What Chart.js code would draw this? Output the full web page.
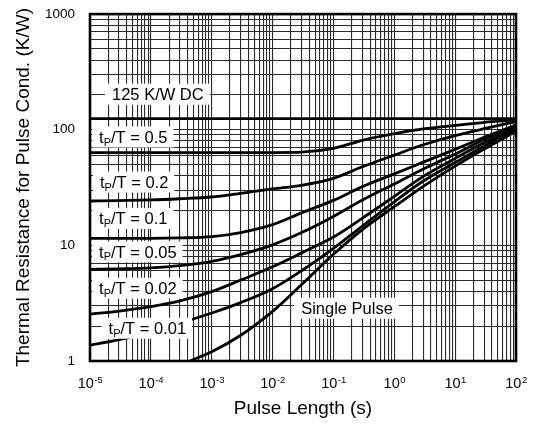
<!DOCTYPE html>
<html>
<head>
<meta charset="utf-8">
<style>
  html, body { margin: 0; padding: 0; background: #fff; }
  #wrap { width: 535px; height: 424px; }
</style>
<script src="https://cdn.jsdelivr.net/npm/chart.js@4.4.1/dist/chart.umd.min.js"></script>
</head>
<body>
<div id="wrap"><canvas id="c" width="535" height="424"></canvas></div>
<script>
// ---------------- data ----------------
const pulseLength = [1e-5, 3e-5, 1e-4, 3e-4, 1e-3, 3e-3, 1e-2, 3e-2, 1e-1, 3e-1, 1, 3, 10, 30, 100];
const dcLength = [1e-5, 100];
const dcRth = [125, 125];
const rthD05  = [63.5, 63.5, 63.5, 63.5, 63.5, 63.5, 63.5, 64.0, 69, 81, 92.5, 101.5, 109, 116, 122];
const rthD02  = [24.2, 24.4, 24.7, 25.3, 26.2, 28.2, 30.8, 33.1, 38.0, 47.8, 60.3, 74.1, 89, 102, 117.5];
const rthD01  = [11.5, 11.5, 11.5, 11.6, 11.9, 12.9, 15.1, 19.1, 24.5, 32.2, 41.5, 52.5, 67.6, 86, 110];
const rthD005 = [6.2, 6.27, 6.4, 6.68, 7.28, 8.32, 10.1, 12.9, 17.8, 24.7, 34.0, 45.7, 61.7, 82.2, 108];
const rthD002 = [2.54, 2.70, 2.95, 3.31, 3.98, 5.01, 6.53, 8.61, 11.8, 17.2, 26.5, 39.5, 56.5, 77, 104];
const rthD001 = [1.37, 1.53, 1.78, 2.12, 2.6, 3.2, 4.22, 6.03, 9.4, 14.7, 23.8, 36.0, 52, 72.4, 101];
const singleLength = [4.4e-4, 1e-3, 3e-3, 1e-2, 3e-2, 1e-1, 3e-1, 1, 3, 10, 30, 100];
const rthSingle = [1.0, 1.20, 1.67, 2.69, 4.58, 8.37, 13.7, 21.6, 32.4, 48.5, 68.1, 97];

// tick labels
const xDecades = [-5, -4, -3, -2, -1, 0, 1, 2];
const xTickBase = '10';
const xTickExponents = ['-5', '-4', '-3', '-2', '-1', '0', '1', '2'];
const yDecades = [0, 1, 2, 3];
const yTickLabels = ['1', '10', '100', '1000'];
const minorSteps = [1, 2, 3, 4, 5, 6, 7, 8, 9];

// curve annotations (text, anchor in data units: left edge of text, vertical middle)
const curveLabels = [
  { text: '125 K/W DC',   x: 2.3e-5,  y: 203 },
  { text: 't_P/T = 0.5',  x: 1.41e-5, y: 86.5 },
  { text: 't_P/T = 0.2',  x: 1.46e-5, y: 35.3 },
  { text: 't_P/T = 0.1',  x: 1.41e-5, y: 17.1 },
  { text: 't_P/T = 0.05', x: 1.41e-5, y: 8.8 },
  { text: 't_P/T = 0.02', x: 1.41e-5, y: 4.26 },
  { text: 't_P/T = 0.01', x: 2.02e-5, y: 1.92 },
  { text: 'Single Pulse', x: 2.95e-2, y: 2.86 }
];

// ---------------- helpers ----------------
const FONT = "'Liberation Sans', Arial, Helvetica, sans-serif";
const pts = (xs, ys) => xs.map((v, i) => ({ x: v, y: ys[i] }));
const gridValues = decs => {
  const out = [];
  decs.forEach((d, i) => {
    if (i === decs.length - 1) { out.push(Math.pow(10, d)); return; }
    minorSteps.forEach(m => out.push(+(m * Math.pow(10, d)).toPrecision(6)));
  });
  return out;
};
const decadeIndex = (v, decs) => {
  const l = Math.log10(v);
  const r = Math.round(l);
  if (Math.abs(l - r) > 1e-6) return -1;
  return decs.indexOf(r);
};

const lineStyle = { borderColor: '#000', borderWidth: 2.8, pointRadius: 0, fill: false, cubicInterpolationMode: 'monotone' };

const series = [
  { label: 'DC', data: pts(dcLength, dcRth) },
  { label: 'tP/T = 0.5', data: pts(pulseLength, rthD05) },
  { label: 'tP/T = 0.2', data: pts(pulseLength, rthD02) },
  { label: 'tP/T = 0.1', data: pts(pulseLength, rthD01) },
  { label: 'tP/T = 0.05', data: pts(pulseLength, rthD005) },
  { label: 'tP/T = 0.02', data: pts(pulseLength, rthD002) },
  { label: 'tP/T = 0.01', data: pts(pulseLength, rthD001) },
  { label: 'Single Pulse', data: pts(singleLength, rthSingle) }
].map(s => Object.assign({}, lineStyle, s));

// ---------------- plugins ----------------
const annotations = {
  id: 'annotations',
  afterDatasetsDraw(chart) {
    const { ctx } = chart;
    const xs = chart.scales.x, ys = chart.scales.y;
    const mainSize = 16.5, subSize = 11;
    ctx.save();
    curveLabels.forEach(l => {
      const px = xs.getPixelForValue(l.x);
      const py = ys.getPixelForValue(l.y);
      const parts = [];
      const m = l.text.match(/^(.*?)_(.)(.*)$/);
      if (m) { parts.push({ t: m[1] }, { t: m[2], sub: true }, { t: m[3] }); }
      else parts.push({ t: l.text });
      let w = 0;
      parts.forEach(p => {
        ctx.font = (p.sub ? subSize : mainSize) + 'px ' + FONT;
        p.w = ctx.measureText(p.t).width;
        w += p.w;
      });
      ctx.fillStyle = '#fff';
      ctx.fillRect(px - 7, py - 10.5, w + 13, 21);
      ctx.fillStyle = '#000';
      ctx.textBaseline = 'alphabetic';
      ctx.textAlign = 'left';
      const base = py + 6;
      let cx = px;
      parts.forEach(p => {
        ctx.font = (p.sub ? subSize : mainSize) + 'px ' + FONT;
        ctx.fillText(p.t, cx, p.sub ? base + 2.5 : base);
        cx += p.w;
      });
    });
    ctx.restore();
  },
  afterDraw(chart) {
    const { ctx, chartArea: a } = chart;
    const xs = chart.scales.x;
    ctx.save();
    ctx.strokeStyle = '#000';
    ctx.lineWidth = 2.6;
    ctx.strokeRect(a.left, a.top, a.right - a.left, a.bottom - a.top);
    // x tick labels: "10" with raised exponent
    ctx.fillStyle = '#000';
    ctx.textBaseline = 'alphabetic';
    ctx.textAlign = 'left';
    xDecades.forEach((d, i) => {
      const px = xs.getPixelForValue(Math.pow(10, d));
      ctx.font = '14.5px ' + FONT;
      const w1 = ctx.measureText(xTickBase).width;
      ctx.font = '9.5px ' + FONT;
      const w2 = ctx.measureText(xTickExponents[i]).width;
      const x0 = px - (w1 + w2) / 2;
      ctx.font = '14.5px ' + FONT;
      ctx.fillText(xTickBase, x0, a.bottom + 26.5);
      ctx.font = '9.5px ' + FONT;
      ctx.fillText(xTickExponents[i], x0 + w1 + 0.5, a.bottom + 21.8);
    });
    ctx.restore();
  }
};

// ---------------- chart ----------------
new Chart(document.getElementById('c'), {
  type: 'line',
  data: { datasets: series },
  options: {
    responsive: false,
    animation: false,
    devicePixelRatio: 1,
    layout: { padding: { top: 14, right: 19, left: 0, bottom: 0 } },
    plugins: { legend: { display: false }, tooltip: { enabled: false } },
    scales: {
      x: {
        type: 'logarithmic',
        min: 1e-5, max: 100,
        afterBuildTicks: s => { s.ticks = gridValues(xDecades).map(v => ({ value: v })); },
        afterFit: s => { s.height = 63; },
        ticks: { display: false, autoSkip: false, maxRotation: 0, minRotation: 0 },
        grid: { color: '#2a2a2a', lineWidth: 1.1, drawTicks: false },
        border: { display: false },
        title: { display: true, text: 'Pulse Length (s)', color: '#000', font: { family: FONT, size: 19 }, padding: { top: 0, bottom: 4 } }
      },
      y: {
        type: 'logarithmic',
        min: 1, max: 1000,
        afterBuildTicks: s => { s.ticks = gridValues(yDecades).map(v => ({ value: v })); },
        afterFit: s => { s.width = 90; },
        ticks: {
          autoSkip: false, padding: 6, color: '#000',
          font: { family: FONT, size: 13.5 },
          callback: v => { const i = decadeIndex(v, yDecades); return i < 0 ? '' : yTickLabels[i]; }
        },
        grid: { color: '#2a2a2a', lineWidth: 1.1, drawTicks: true, tickLength: 9, tickColor: 'rgba(0,0,0,0)' },
        border: { display: false },
        title: { display: true, text: 'Thermal Resistance for Pulse Cond. (K/W)', color: '#000', font: { family: FONT, size: 19 }, padding: { top: 12, bottom: 0 } }
      }
    }
  },
  plugins: [annotations]
});
</script>
</body>
</html>
